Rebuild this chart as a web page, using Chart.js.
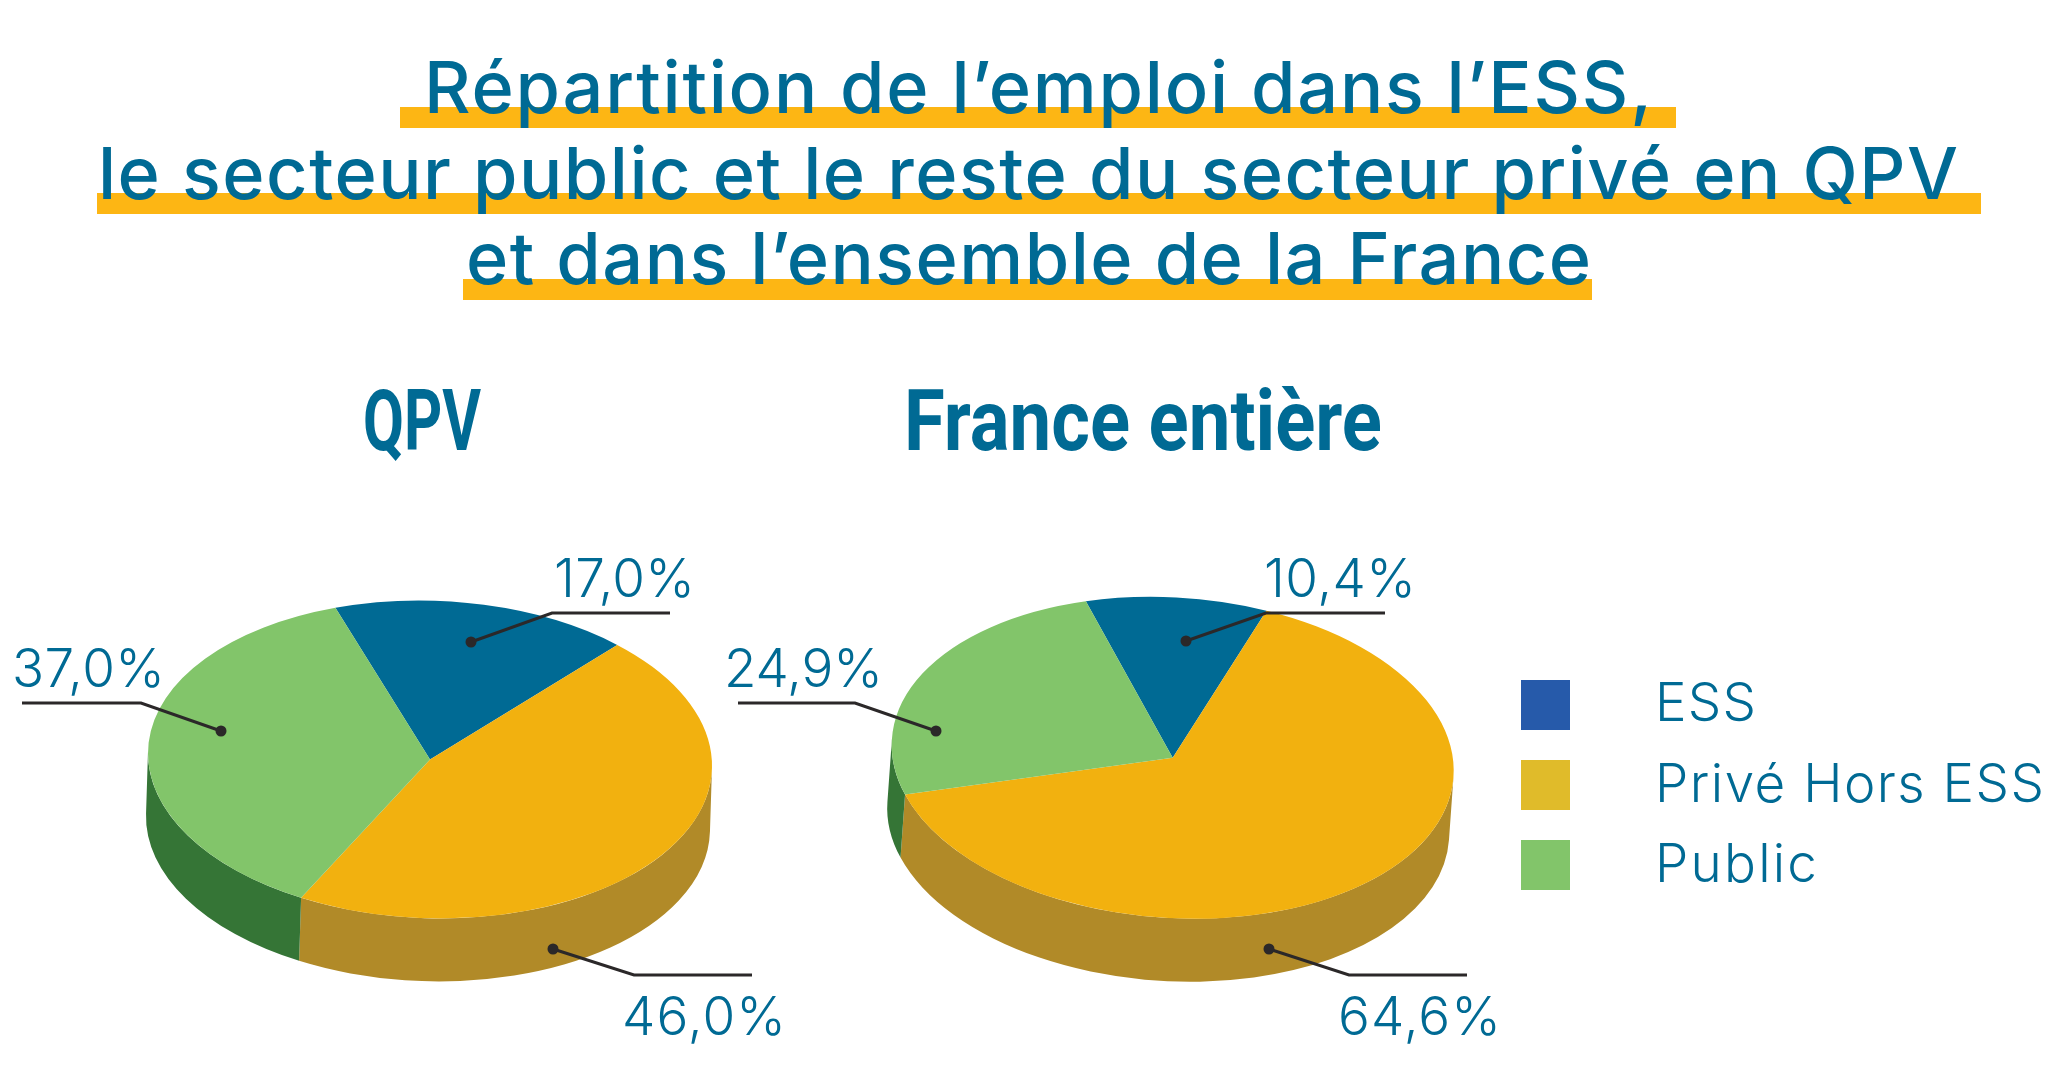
<!DOCTYPE html>
<html lang="fr"><head><meta charset="utf-8">
<style>
html,body{margin:0;padding:0;background:#fff;width:2048px;height:1069px;overflow:hidden}
canvas,svg{position:absolute;left:0;top:0}
</style>
<script src="https://cdn.jsdelivr.net/npm/chart.js@4"></script>
</head><body>
<canvas id="c1" width="2048" height="1069"></canvas>
<canvas id="c2" width="2048" height="1069"></canvas>
<svg id="s" width="2048" height="1069" xmlns="http://www.w3.org/2000/svg"></svg>
<script>
const categories = ['ESS', 'Privé Hors ESS', 'Public'];
const qpvValues = [17.0, 46.0, 37.0];
const franceValues = [10.4, 64.6, 24.9];
const sliceColors = ['#006a94', '#f2b10f', '#82c56a'];
const wallColors = ['#004f6e', '#b18a28', '#357536'];
const legendColors = ['#265aaa', '#e0bb2a', '#82c56a'];
const titleLines = ['Répartition de l’emploi dans l’ESS,', 'le secteur public et le reste du secteur privé en QPV', 'et dans l’ensemble de la France'];
const panelTitles = ['QPV', 'France entière'];
const TEXT = '#006a94', BAR = '#fdb614', INK = '#2b2829';

// value callouts: dot, elbow, line end, text left/baseline/width, in category order
const qpvCallouts = [
  {dot:[471,642], elbow:[552,613], end:[670,613], tx:554, ty:597, tw:141},
  {dot:[553,949], elbow:[634,975], end:[752,975], tx:622, ty:1035, tw:164},
  {dot:[221,731], elbow:[141,703], end:[22,703], tx:12, ty:687, tw:153}
];
const franceCallouts = [
  {dot:[1186,641], elbow:[1266,613], end:[1385,613], tx:1264, ty:597, tw:152},
  {dot:[1269,949], elbow:[1349,975], end:[1467,975], tx:1338, ty:1035, tw:163},
  {dot:[936,731], elbow:[855,703], end:[738,703], tx:724, ty:687, tw:159}
];

const fmt = v => v.toFixed(1).replace('.', ',') + '%';

const pie3d = {
  id: 'pie3d',
  beforeDatasetsDraw(chart, args, o) {
    const ctx = chart.ctx, arcs = chart.getDatasetMeta(0).data;
    const r = arcs[0].outerRadius, cx = arcs[0].x, cy = arcs[0].y;
    ctx.save();
    ctx.translate(cx, cy);
    ctx.transform(1, o.shear, 0, 1, 0, 0);
    ctx.scale(1, o.squash);
    ctx.translate(-cx, -cy);
    const dx = o.shift, dy = (o.depth - o.shear * o.shift) / o.squash;
    const front = Math.atan2(dy, dx);
    arcs.forEach((arc, i) => {
      for (let n = -1; n <= 1; n++) {
        const p = Math.max(arc.startAngle, front - Math.PI / 2 + n * 2 * Math.PI);
        const q = Math.min(arc.endAngle, front + Math.PI / 2 + n * 2 * Math.PI);
        if (q <= p) continue;
        ctx.beginPath();
        ctx.arc(cx, cy, r, p, q);
        ctx.arc(cx + dx, cy + dy, r, q, p, true);
        ctx.closePath();
        ctx.fillStyle = wallColors[i];
        ctx.fill();
      }
    });
  },
  afterDatasetsDraw(chart, args, o) {
    const ctx = chart.ctx, values = chart.data.datasets[0].data;
    ctx.restore();
    ctx.save();
    o.callouts.forEach((c, i) => {
      ctx.strokeStyle = INK; ctx.lineWidth = 3;
      ctx.beginPath(); ctx.moveTo(...c.dot); ctx.lineTo(...c.elbow); ctx.lineTo(...c.end); ctx.stroke();
      ctx.fillStyle = INK;
      ctx.beginPath(); ctx.arc(c.dot[0], c.dot[1], 5.5, 0, 2 * Math.PI); ctx.fill();
      ctx.font = '300 53px Inter';
      ctx.fillStyle = TEXT; ctx.textAlign = 'left'; ctx.textBaseline = 'alphabetic';
      const s = fmt(values[i]);
      const w = ctx.measureText(s).width;
      ctx.letterSpacing = ((c.tw - w) / (s.length - 1)).toFixed(2) + 'px';
      ctx.fillText(s, c.tx, c.ty);
      ctx.letterSpacing = '0px';
    });
    ctx.restore();
  }
};

function pie(id, values, rotation, cx, cy, r, tilt, callouts) {
  return new Chart(document.getElementById(id), {
    type: 'pie',
    data: { labels: categories, datasets: [{ data: values, backgroundColor: sliceColors, borderWidth: 0, clip: false }] },
    options: {
      responsive: false, animation: false, rotation,
      events: [],
      layout: { padding: { left: cx - r, right: 2048 - cx - r, top: cy - r, bottom: 1069 - cy - r } },
      plugins: { legend: { display: false }, tooltip: { enabled: false }, pie3d: { ...tilt, depth: 63, callouts } }
    },
    plugins: [pie3d]
  });
}
pie('c1', qpvValues, -19.6, 430, 759.5, 282, { squash: 0.563, shear: 0.022, shift: -2 }, qpvCallouts);
pie('c2', franceValues, -18, 1172.7, 757.8, 281, { squash: 0.571, shear: 0.045, shift: -4.5 }, franceCallouts);

// page furniture
const svg = document.getElementById('s');
const NS = 'http://www.w3.org/2000/svg';
function rect(x, y, w, h, fill) {
  const e = document.createElementNS(NS, 'rect');
  for (const [k, v] of Object.entries({x, y, width: w, height: h, fill})) e.setAttribute(k, v);
  svg.appendChild(e);
}
function text(s, x, y, w, font, size, weight, adjust) {
  const e = document.createElementNS(NS, 'text');
  for (const [k, v] of Object.entries({x, y, fill: TEXT, 'font-family': font, 'font-size': size, 'font-weight': weight, textLength: w, lengthAdjust: adjust || 'spacing'})) e.setAttribute(k, v);
  e.textContent = s;
  svg.appendChild(e);
}
const titleBars = [[400,107,1276],[97,193,1884],[463,279,1129]];
const titleText = [[424,113,1228],[98,199,1860],[466,284,1125]];
titleLines.forEach((t, i) => {
  rect(...titleBars[i], 21, BAR);
  text(t, titleText[i][0], titleText[i][1], titleText[i][2], 'Inter', 72, 500);
});
text(panelTitles[0], 363, 450, 118, 'Roboto', 85, 700, 'spacingAndGlyphs');
text(panelTitles[1], 904, 450, 478, 'Roboto', 85, 700, 'spacingAndGlyphs');
const legendY = [680, 760, 840];
const legendBase = [721, 802, 882];
const legendW = [101, 389, 162];
categories.forEach((c, i) => {
  rect(1521, legendY[i], 49, 50, legendColors[i]);
  text(c, 1655, legendBase[i], legendW[i], 'Inter', 53, 300);
});
</script>
</body></html>
